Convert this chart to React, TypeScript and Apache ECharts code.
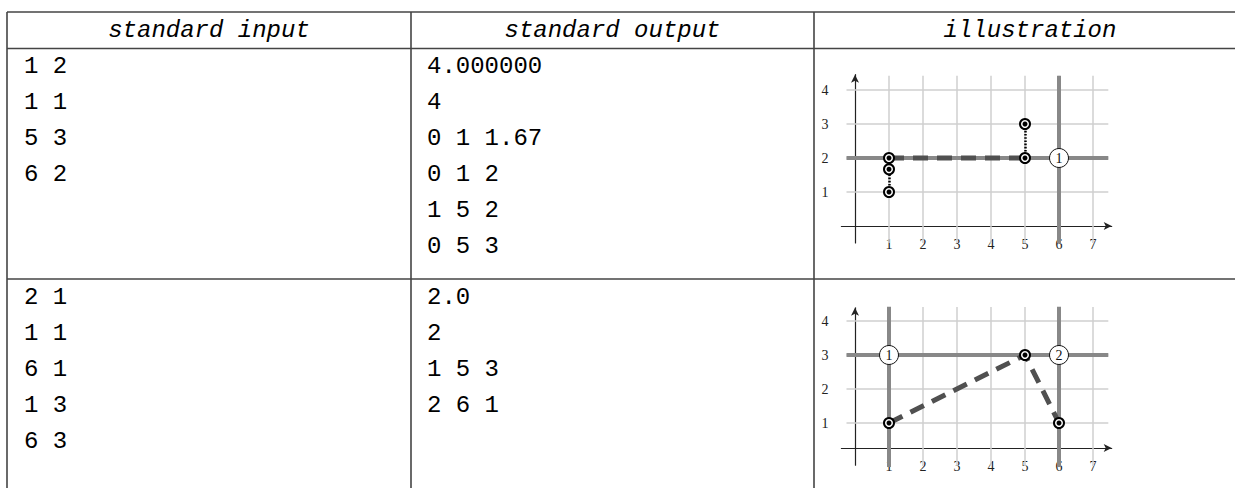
import React, { useEffect, useRef } from 'react';
import * as echarts from 'echarts';

// ---------- table text ----------
const headers = ['standard input', 'standard output', 'illustration'];
const input1 = ['1 2', '1 1', '5 3', '6 2'];
const output1 = ['4.000000', '4', '0 1 1.67', '0 1 2', '1 5 2', '0 5 3'];
const input2 = ['2 1', '1 1', '6 1', '1 3', '6 3'];
const output2 = ['2.0', '2', '1 5 3', '2 6 1'];

// ---------- illustration data ----------
const xTicks = [1, 2, 3, 4, 5, 6, 7];
const yTicks = [1, 2, 3, 4];

const ex1Route = [[1, 2], [5, 2]];
const ex1Waits = [[[1, 1], [1, 2]], [[5, 2], [5, 3]]];
const ex1Points = [[1, 1], [1, 1.67], [1, 2], [5, 2], [5, 3]];
const ex1Rows = [2];
const ex1Cols = [6];
const ex1Stations = [[6, 2, '1']];

const ex2Route = [[1, 1], [5, 3], [6, 1]];
const ex2Waits: number[][][] = [];
const ex2Points = [[1, 1], [5, 3], [6, 1]];
const ex2Rows = [3];
const ex2Cols = [1, 6];
const ex2Stations = [[1, 3, '1'], [6, 3, '2']];

// ---------- layout ----------
const W = 1235;
const H = 488;
const colX = [7, 411, 814];
const rowY = [12, 48.5, 279];
const lineGap = 36;
const UNIT = 34;
const X0 = 855; // pixel of x = 0

const examples = [
  { route: ex1Route, waits: ex1Waits, points: ex1Points, rows: ex1Rows, cols: ex1Cols, stations: ex1Stations,
    originY: 226, yMin: -0.5, yMax: 4.45, axisPix: 226, gridLo: -0.25 },
  { route: ex2Route, waits: ex2Waits, points: ex2Points, rows: ex2Rows, cols: ex2Cols, stations: ex2Stations,
    originY: 457, yMin: -0.24, yMax: 4.39, axisPix: 448, gridLo: -0.05 },
];

const MONO = '"Liberation Mono", "DejaVu Sans Mono", monospace';
const SERIF = '"Liberation Serif", "DejaVu Serif", serif';

function buildOption() {
  const graphic: any[] = [];
  const stroke = '#444';
  const hl = (y: number) => graphic.push({ type: 'line', shape: { x1: colX[0], y1: y, x2: W, y2: y }, style: { stroke, lineWidth: 1.6 } });
  const vl = (x: number) => graphic.push({ type: 'line', shape: { x1: x, y1: rowY[0], x2: x, y2: H }, style: { stroke, lineWidth: 1.6 } });
  rowY.forEach(hl);
  colX.forEach(vl);

  const heads = [(colX[0] + colX[1]) / 2, (colX[1] + colX[2]) / 2, 1030];
  headers.forEach((h, i) => {
    graphic.push({ type: 'text', x: heads[i], y: (rowY[0] + rowY[1]) / 2, style: {
      text: h, font: `italic 24px ${MONO}`, fill: '#000', textAlign: 'center', textVerticalAlign: 'middle' } });
  });
  const col = (lines: string[], x: number, y0: number) => lines.forEach((t, i) => {
    graphic.push({ type: 'text', x, y: y0 + i * lineGap, style: {
      text: t, font: `24px ${MONO}`, fill: '#000', textAlign: 'left', textVerticalAlign: 'middle' } });
  });
  col(input1, 24, rowY[1] + 18);
  col(output1, 427, rowY[1] + 18);
  col(input2, 24, rowY[2] + 18);
  col(output2, 427, rowY[2] + 18);

  const grid: any[] = [];
  const xAxis: any[] = [];
  const yAxis: any[] = [];
  const series: any[] = [];
  const xMin = -0.4, xMax = 7.55;

  examples.forEach((ex, i) => {
    const top = ex.originY - ex.yMax * UNIT;
    const bottom = ex.originY - ex.yMin * UNIT;
    grid.push({ left: X0 + xMin * UNIT, top, width: (xMax - xMin) * UNIT, height: bottom - top, containLabel: false });
    xAxis.push({
      gridIndex: i, type: 'value', min: xMin, max: xMax, offset: -(bottom - ex.axisPix),
      axisLine: { onZero: false, symbol: ['none', 'arrow'], symbolSize: [6, 8], lineStyle: { color: '#222', width: 1.2 } },
      axisTick: { show: false }, splitLine: { show: false },
      axisLabel: { customValues: xTicks, margin: 11, fontFamily: SERIF, fontSize: 14, color: '#222' },
    });
    yAxis.push({
      gridIndex: i, type: 'value', min: ex.yMin, max: ex.yMax,
      axisLine: { onZero: true, symbol: ['none', 'arrow'], symbolSize: [6, 8], lineStyle: { color: '#222', width: 1.2 } },
      axisTick: { show: false }, splitLine: { show: false },
      axisLabel: { customValues: yTicks, margin: 13, fontFamily: SERIF, fontSize: 14, color: '#222' },
    });
    const gx0 = -0.25, gx1 = 7.45, gy1 = 4.42, gy0 = ex.gridLo - 0.25;
    const ax = { xAxisIndex: i, yAxisIndex: i, coordinateSystem: 'cartesian2d' };
    series.push({
      type: 'lines', ...ax, silent: true, z: 1,
      lineStyle: { color: '#cfcfcf', width: 1.5, opacity: 1, curveness: 0 },
      data: [
        ...xTicks.map((x) => ({ coords: [[x, gy0], [x, gy1]] })),
        ...yTicks.map((y) => ({ coords: [[gx0, y], [gx1, y]] })),
      ],
    });
    series.push({
      type: 'lines', ...ax, silent: true, z: 2,
      lineStyle: { color: '#888888', width: 4, opacity: 1, curveness: 0 },
      data: [
        ...ex.cols.map((x) => ({ coords: [[x, gy0], [x, gy1]] })),
        ...ex.rows.map((y) => ({ coords: [[gx0, y], [gx1, y]] })),
      ],
    });
    series.push({
      type: 'line', ...ax, z: 3, symbol: 'none', silent: true,
      lineStyle: { color: '#505050', width: 5, type: [15, 9] },
      data: ex.route,
    });
    if (ex.waits.length) {
      series.push({
        type: 'lines', ...ax, silent: true, z: 3,
        lineStyle: { color: '#000', width: 2.5, type: [1.6, 1.6], opacity: 1, curveness: 0 },
        data: ex.waits.map((c) => ({ coords: c })),
      });
    }
    series.push({
      type: 'scatter', ...ax, z: 4, symbol: 'circle', symbolSize: 10, silent: true,
      itemStyle: { color: '#fff', borderColor: '#000', borderWidth: 2, opacity: 1 },
      data: ex.points,
    });
    series.push({
      type: 'scatter', ...ax, z: 5, symbol: 'circle', symbolSize: 5, silent: true,
      itemStyle: { color: '#000', opacity: 1 },
      data: ex.points,
    });
    series.push({
      type: 'scatter', ...ax, z: 4, symbol: 'circle', symbolSize: 19, silent: true,
      itemStyle: { color: '#fff', borderColor: '#111', borderWidth: 1, opacity: 1 },
      label: { show: true, position: 'inside', formatter: (p: any) => p.data[2], fontFamily: SERIF, fontSize: 14, color: '#111' },
      data: ex.stations,
    });
  });

  return { animation: false, backgroundColor: '#fff', graphic, grid, xAxis, yAxis, series };
}

export default function App() {
  const ref = useRef<HTMLDivElement>(null);
  useEffect(() => {
    document.body.style.margin = '0';
    const chart = echarts.init(ref.current!, undefined, { renderer: 'svg' });
    chart.setOption(buildOption() as any);
    return () => chart.dispose();
  }, []);
  return <div ref={ref} style={{ width: W, height: H }} />;
}
